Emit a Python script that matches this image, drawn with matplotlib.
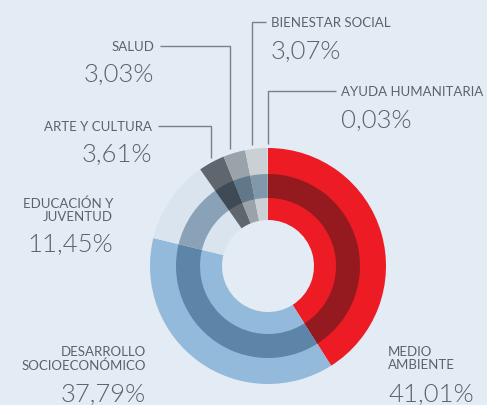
import numpy as np
import matplotlib.pyplot as plt

categories = ["MEDIO\nAMBIENTE", "DESARROLLO\nSOCIOECONÓMICO", "EDUCACIÓN Y\nJUVENTUD",
              "ARTE Y CULTURA", "SALUD", "BIENESTAR SOCIAL", "AYUDA HUMANITARIA"]
values = [41.01, 37.79, 11.45, 3.61, 3.03, 3.07, 0.03]
pct_labels = ["41,01%", "37,79%", "11,45%", "3,61%", "3,03%", "3,07%", "0,03%"]

outer_colors = ["#ed1c24", "#93badb", "#dae4ef", "#5f666d", "#9aa3aa", "#cbd0d4", "#f2f2f2"]
inner_colors = ["#951a1f", "#5d85a7", "#8aa2b7", "#3e4a55", "#61788a", "#8098a9", "#d0d4d8"]

BG = "#e3ebf4"
TXT = "#5d6268"
LINE = "#7a8088"
W, H = 487, 406
cx, cy = 268, H - 267
R_OUT, R_MID, R_IN, R_HOLE = 118, 92, 68, 46

plt.rcParams['font.family'] = ['Lato', 'DejaVu Sans']


def main():
    fig = plt.figure(figsize=(W / 100, H / 100), dpi=100, facecolor=BG)
    ax = fig.add_axes([0, 0, 1, 1])
    ax.set_facecolor(BG)

    # light full wedge, then darker middle band on top
    ax.pie(values, colors=outer_colors, startangle=90, counterclock=False,
           center=(cx, cy), radius=R_OUT, wedgeprops=dict(width=R_OUT - R_HOLE, linewidth=0))
    ax.pie(values, colors=inner_colors, startangle=90, counterclock=False,
           center=(cx, cy), radius=R_MID, wedgeprops=dict(width=R_MID - R_IN, linewidth=0))
    ax.set_xlim(0, W)
    ax.set_ylim(0, H)
    ax.set_aspect('equal')
    ax.axis('off')

    # wedge mid angles for leader lines
    ends = 90 - np.cumsum(values) / sum(values) * 360
    starts = np.concatenate([[90], ends[:-1]])
    mids = (starts + ends) / 2

    small = 9.5
    big = 18.5
    pw = 300
    # leader lines: (index, line x offset, top y, label side, horizontal end x)
    leaders = [(3, -1, 127, 'left', 158), (4, -4, 47, 'left', 160),
               (5, -4, 23, 'right', 266), (6, 0, 92, 'right', 336)]
    for i, dx, ty, side, hx in leaders:
        a = np.deg2rad(mids[i])
        x = cx + R_OUT * np.cos(a) + dx
        y0 = cy + R_OUT * np.sin(a) + 4
        ax.plot([x, x, hx], [y0, H - ty, H - ty], color=LINE, lw=1, solid_capstyle='butt')
        if side == 'left':
            ax.text(hx - 6, H - ty, categories[i], ha='right', va='center', fontsize=small, color=TXT)
            ax.text(hx - 6, H - ty - 28, pct_labels[i], ha='right', va='center', fontsize=big,
                    color=TXT, fontweight=pw)
        else:
            ax.text(hx + 5, H - ty, categories[i], ha='left', va='center', fontsize=small, color=TXT)
            ax.text(hx + 5, H - ty - 29, pct_labels[i], ha='left', va='center', fontsize=big,
                    color=TXT, fontweight=pw)

    ax.text(113, H - 210, categories[2], ha='right', va='center', fontsize=small, color=TXT,
            linespacing=1.1, multialignment='right')
    ax.text(113, H - 245, pct_labels[2], ha='right', va='center', fontsize=big, color=TXT,
            fontweight=pw)
    ax.text(146, H - 359, categories[1], ha='right', va='center', fontsize=small, color=TXT,
            linespacing=1.1, multialignment='right')
    ax.text(146, H - 395, pct_labels[1], ha='right', va='center', fontsize=big, color=TXT,
            fontweight=pw)
    ax.text(388, H - 359, categories[0], ha='left', va='center', fontsize=small, color=TXT,
            linespacing=1.1)
    ax.text(388, H - 395, pct_labels[0], ha='left', va='center', fontsize=big, color=TXT,
            fontweight=pw)

    fig.savefig("out.png", dpi=100, facecolor=BG)


if __name__ == '__main__':
    main()
